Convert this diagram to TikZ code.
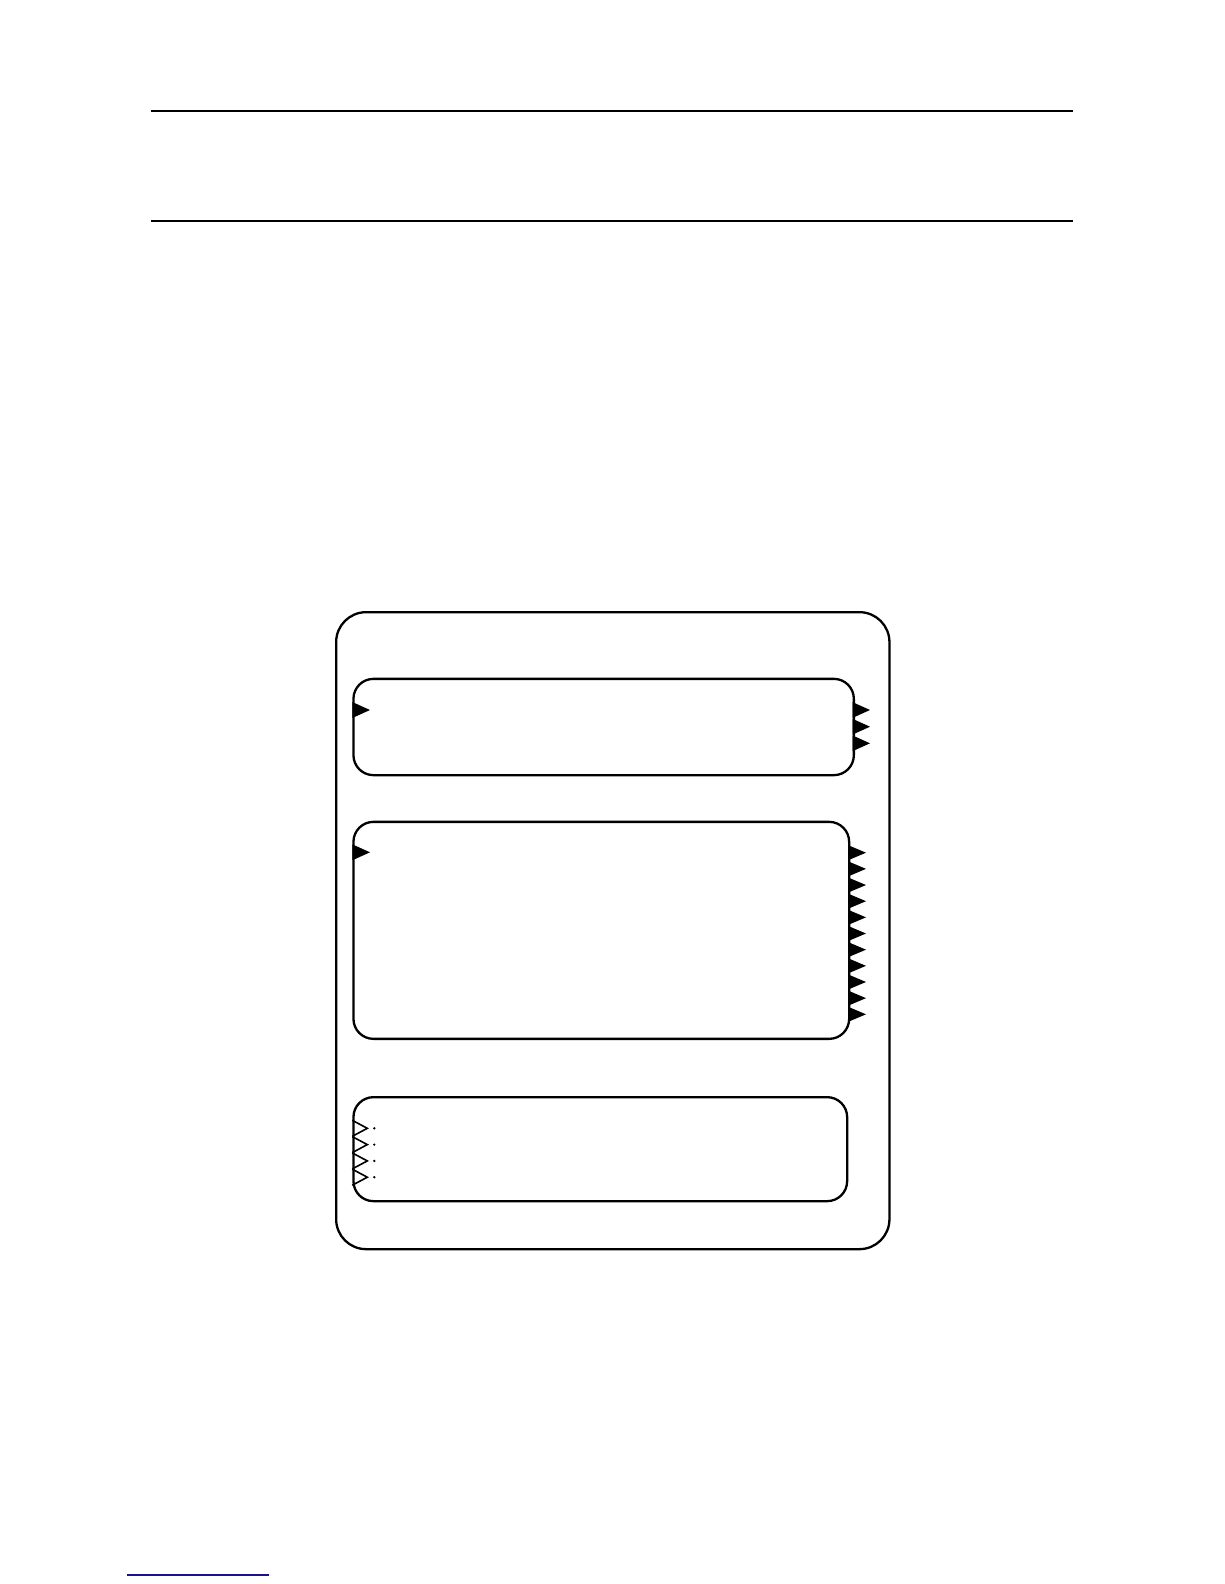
\documentclass[tikz,border=0pt]{standalone}
\usetikzlibrary{calc}
\definecolor{linkblue}{RGB}{20,20,140}
\tikzset{
  frame/.style={draw=black,line width=2.3pt,rounded corners=#1,inner sep=0pt,anchor=north west},
  rule/.style={draw=black,line width=2.3pt},
  outport/.style={fill=black},
  inport/.style={draw=black,line width=1.6pt,line join=miter},
}
\begin{document}
\begin{tikzpicture}[x=1pt,y=-1pt]
\useasboundingbox (0,0) rectangle (1224,1584);
% header rules
\coordinate (r1a) at (150.7,110.7); \coordinate (r1b) at (1072.7,110.7);
\coordinate (r2a) at (150.7,220.7); \coordinate (r2b) at (1072.7,220.7);
\draw[rule] (r1a) -- (r1b);
\draw[rule] (r2a) -- (r2b);
% outer box
\node[frame=30pt,minimum width=553.3pt,minimum height=637pt] (outer) at (335,611) {};
% box 1
\node[frame=20pt,minimum width=500.4pt,minimum height=96.3pt] (b1) at (352.3,677.7) {};
% box 2
\node[frame=20pt,minimum width=495.7pt,minimum height=217pt] (b2) at (352.3,820.7) {};
% box 3
\node[frame=20pt,minimum width=493.7pt,minimum height=104pt] (b3) at (352.3,1096) {};
% box 1 ports
\fill[outport] (352.3,702) -- (370,710) -- (352.3,718) -- cycle;
\foreach \yy in {710,726.7,743.3}{
  \fill[outport] (852.7,{\yy-7.8}) -- (870,\yy) -- (852.7,{\yy+7.8}) -- cycle;
}
% box 2 ports
\fill[outport] (352.3,844.3) -- (370,852.3) -- (352.3,860.3) -- cycle;
\foreach \i in {0,...,10}{
  \pgfmathsetmacro{\yy}{852.7+16.16*\i}
  \fill[outport] (848,{\yy-7.6}) -- (866,\yy) -- (848,{\yy+7.6}) -- cycle;
}
% box 3 ports
\foreach \yy in {1128.3,1144.6,1160.9,1177.2}{
  \draw[inport] (352.3,{\yy-8}) -- (367.3,\yy) -- (352.3,{\yy+8});
  \fill[black] (374.3,\yy) circle (1.3pt);
}
% footer link line
\coordinate (la) at (127,1575); \coordinate (lb) at (269,1575);
\draw[linkblue,line width=1.5pt] (la) -- (lb);
\end{tikzpicture}
\end{document}
